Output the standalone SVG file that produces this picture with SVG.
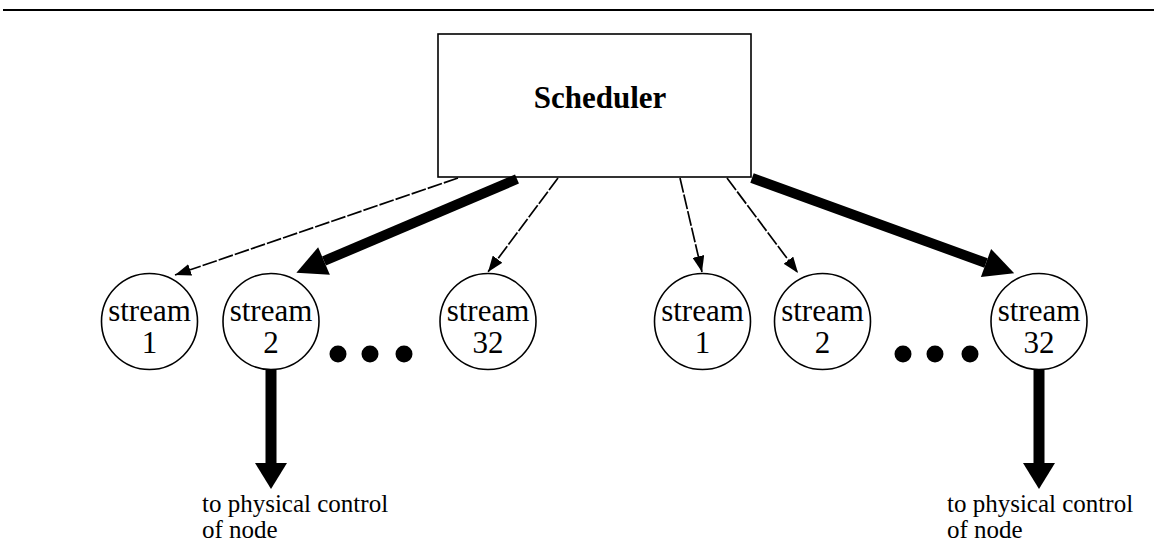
<svg xmlns="http://www.w3.org/2000/svg" width="1154" height="560" viewBox="0 0 1154 560">
<style>
.node{fill:#fff;stroke:#000;stroke-width:1.6}
.lbl{font-family:"Liberation Serif","Times New Roman",serif;font-size:31px;text-anchor:middle;fill:#000}
.note{font-family:"Liberation Serif","Times New Roman",serif;font-size:25px;fill:#000}
.dash{stroke:#000;stroke-width:1.7;stroke-dasharray:15 2;fill:none;marker-end:url(#thin)}
.thick{stroke:#000;stroke-width:10;fill:none;marker-end:url(#big)}
.down{stroke:#000;stroke-width:11;fill:none}
.dot{fill:#000}
</style>
<defs>
<marker id="thin" markerUnits="userSpaceOnUse" viewBox="0 0 17 12" refX="16" refY="6" markerWidth="17" markerHeight="12" orient="auto">
<path d="M0,0 L16,6 L0,12 z" fill="#000"/>
</marker>
<marker id="big" markerUnits="userSpaceOnUse" viewBox="-1 -16 32 32" refX="0" refY="0" markerWidth="32" markerHeight="32" orient="auto">
<path d="M0,-15 L30,0 L0,15 z" fill="#000"/>
</marker>
</defs>
<line x1="3" y1="10" x2="1154" y2="10" stroke="#000" stroke-width="2"/>
<g id="scheduler">
<rect class="node" x="438" y="34" width="313" height="143"/>
<text x="600" y="108" class="lbl" font-weight="bold" font-size="32">Scheduler</text>
</g>
<g id="connectors">
<line class="dash" x1="458" y1="178" x2="175" y2="275"/>
<line class="thick" x1="517" y1="179" x2="324" y2="261"/>
<line class="dash" x1="558" y1="178" x2="488" y2="272"/>
<line class="dash" x1="680" y1="178" x2="702" y2="272"/>
<line class="dash" x1="727" y1="178" x2="798" y2="273"/>
<line class="thick" x1="752" y1="178" x2="986" y2="263"/>
<line class="down" x1="271" y1="370" x2="271" y2="464"/>
<polygon points="255,463 287,463 271,489" fill="#000"/>
<line class="down" x1="1039" y1="370" x2="1039" y2="464"/>
<polygon points="1023,463 1055,463 1039,489" fill="#000"/>
</g>
<g id="s1a"><circle class="node" cx="149.5" cy="321.5" r="48"/><text class="lbl" x="149.5" y="321">stream</text><text class="lbl" x="149.5" y="353">1</text></g>
<g id="s2a"><circle class="node" cx="271" cy="321.5" r="48"/><text class="lbl" x="271" y="321">stream</text><text class="lbl" x="271" y="353">2</text></g>
<g id="dotsa"><circle class="dot" cx="338" cy="354" r="8.5"/><circle class="dot" cx="370" cy="354" r="8.5"/><circle class="dot" cx="404" cy="354" r="8.5"/></g>
<g id="s32a"><circle class="node" cx="488" cy="321.5" r="48"/><text class="lbl" x="488" y="321">stream</text><text class="lbl" x="488" y="353">32</text></g>
<g id="s1b"><circle class="node" cx="702.5" cy="321.5" r="48"/><text class="lbl" x="702.5" y="321">stream</text><text class="lbl" x="702.5" y="353">1</text></g>
<g id="s2b"><circle class="node" cx="822.5" cy="321.5" r="48"/><text class="lbl" x="822.5" y="321">stream</text><text class="lbl" x="822.5" y="353">2</text></g>
<g id="dotsb"><circle class="dot" cx="903" cy="354" r="8.5"/><circle class="dot" cx="935" cy="354" r="8.5"/><circle class="dot" cx="970" cy="354" r="8.5"/></g>
<g id="s32b"><circle class="node" cx="1039" cy="321.5" r="48"/><text class="lbl" x="1039" y="321">stream</text><text class="lbl" x="1039" y="353">32</text></g>
<g id="notea"><text class="note" x="202" y="512">to physical control</text><text class="note" x="202" y="538">of node</text></g>
<g id="noteb"><text class="note" x="947" y="512">to physical control</text><text class="note" x="947" y="538">of node</text></g>
</svg>
